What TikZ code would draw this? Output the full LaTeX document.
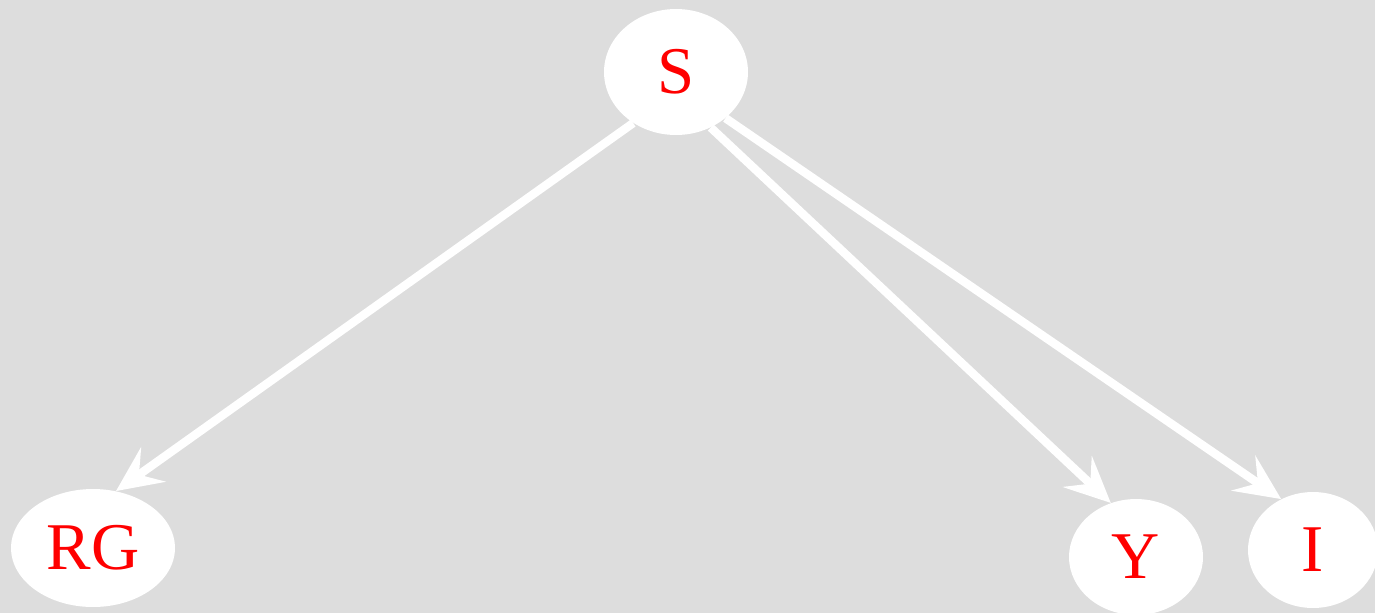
\documentclass[tikz,border=0pt]{standalone}
\usepackage{fontspec}
\setmainfont{Liberation Serif}
\usetikzlibrary{shapes.geometric}
\usetikzlibrary{arrows.meta}
\usetikzlibrary{positioning}

\definecolor{bggray}{HTML}{DDDDDD}

\begin{document}
\begin{tikzpicture}[x=0.02cm, y=-0.02cm,
    every node/.style={ellipse, fill=white, draw=none, inner sep=0pt, text=red, font=\fontsize{38}{44}\selectfont},
    link/.style={draw=white, line width=4.8pt, -{Stealth[length=26pt, width=24pt, inset=10pt]}}]
        \fill[bggray] (0, 0) rectangle (1375, 613);
        \useasboundingbox (0, 0) rectangle (1375, 613);

        \node[minimum width=2.88cm, minimum height=2.52cm] (src) at (676, 72) {S};

        \node[minimum width=3.28cm, minimum height=2.36cm] (rg) at (93, 548) {RG};

        \node[minimum width=2.68cm, minimum height=2.32cm] (y) at (1136, 557) {Y};

        \node[minimum width=2.6cm, minimum height=2.32cm] (i) at (1313, 550) {I};

        \draw[link] (src.230) -- (rg.68);
        \draw[link] (src.302) -- (y.115);
        \draw[link] (src.317) -- (i.122);
      \end{tikzpicture}
\end{document}
